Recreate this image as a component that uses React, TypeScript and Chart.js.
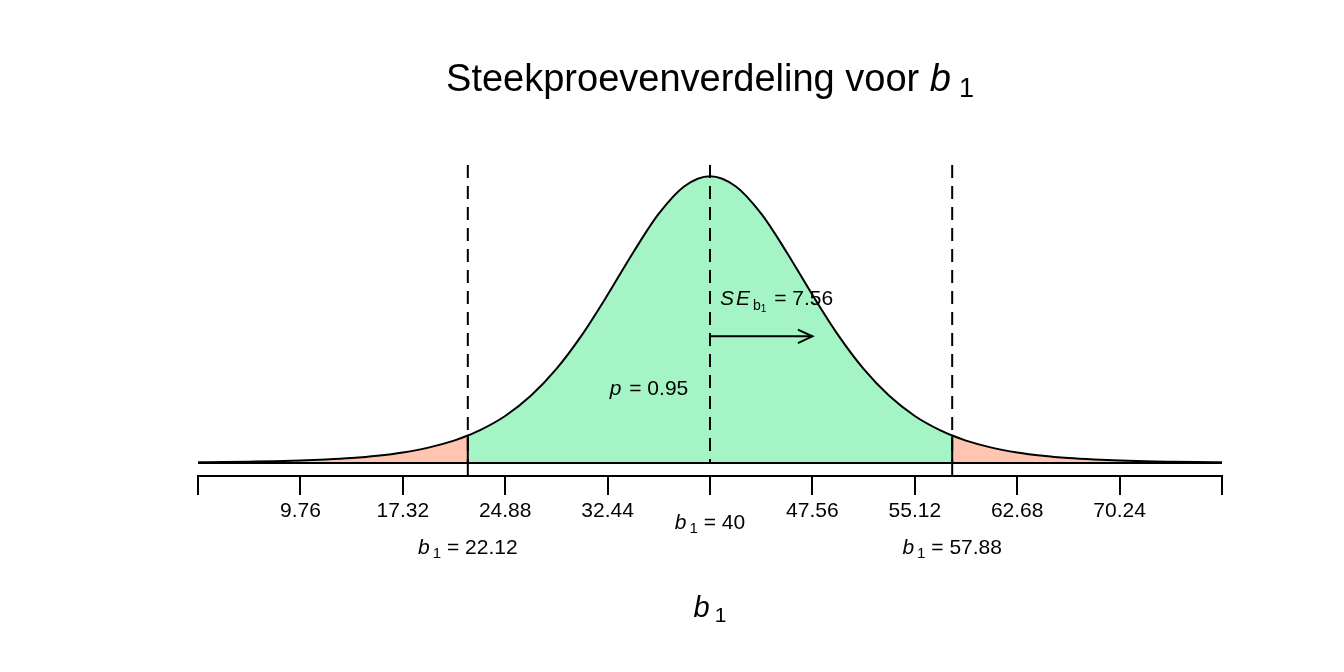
import { useEffect, useRef } from "react";
import { Chart, registerables } from "chart.js";

Chart.register(...registerables);

// Sampling distribution of b1 (t-shaped, heavy tails)
const center = 40;
const se = 7.56;
const lowerCrit = 22.12;
const upperCrit = 57.88;
const coverage = 0.95;

const tickValues = [2.2, 9.76, 17.32, 24.88, 32.44, 40, 47.56, 55.12, 62.68, 70.24, 77.8];
const tickLabels = ["", "9.76", "17.32", "24.88", "32.44", "", "47.56", "55.12", "62.68", "70.24", ""];

const curveB1 = [
  2.2, 4.09, 5.98, 7.87, 9.76, 11.65, 13.54, 15.43, 17.32, 19.21, 21.1, 22.12, 22.99,
  24.88, 26.77, 28.66, 30.55, 32.44, 34.33, 36.22, 38.11, 40, 41.89, 43.78, 45.67,
  47.56, 49.45, 51.34, 53.23, 55.12, 57.01, 57.88, 58.9, 60.79, 62.68, 64.57, 66.46,
  68.35, 70.24, 72.13, 74.02, 75.91, 77.8,
];
const curveDensity = [
  0.0009, 0.0012, 0.0017, 0.0023, 0.0033, 0.0047, 0.0067, 0.0097, 0.0141, 0.0206, 0.03, 0.0368, 0.0437,
  0.0631, 0.0902, 0.1263, 0.172, 0.2257, 0.2826, 0.3346, 0.3715, 0.385, 0.3715, 0.3346, 0.2826,
  0.2257, 0.172, 0.1263, 0.0902, 0.0631, 0.0437, 0.0368, 0.03, 0.0206, 0.0141, 0.0097, 0.0067,
  0.0047, 0.0033, 0.0023, 0.0017, 0.0012, 0.0009,
];

const critDensity = 0.0368;
const arrowLevel = 0.17;
const seLabelLevel = 0.222;
const pLabelLevel = 0.1;

const Y_MIN = -0.0175;
const Y_MAX = 0.4;

const FAMILY = "'Liberation Sans', Arial, Helvetica, sans-serif";
const GREEN = "#a4f4c6";
const SALMON = "#ffc5b0";

type Part = { text: string; size: number; italic?: boolean; dy?: number; gap?: number };

function drawRich(ctx: CanvasRenderingContext2D, parts: Part[], x: number, y: number, align: "center" | "left") {
  const fontOf = (p: Part) => `${p.italic ? "italic " : ""}${p.size}px ${FAMILY}`;
  let total = 0;
  const widths: number[] = [];
  for (const p of parts) {
    ctx.font = fontOf(p);
    const w = ctx.measureText(p.text).width;
    widths.push(w);
    total += (p.gap || 0) + w;
  }
  let cx = align === "center" ? x - total / 2 : x;
  ctx.textAlign = "left";
  ctx.textBaseline = "alphabetic";
  ctx.fillStyle = "#000";
  parts.forEach((p, i) => {
    cx += p.gap || 0;
    ctx.font = fontOf(p);
    ctx.fillText(p.text, cx, y + (p.dy || 0));
    cx += widths[i];
  });
}

const b1Label = (value: number, size: number): Part[] => [
  { text: "b", size, italic: true },
  { text: "1", size: Math.round(size * 0.72), dy: 4, gap: 3 },
  { text: ` = ${value}`, size },
];

const annotations = {
  id: "annotations",
  afterDraw(chart: any) {
    const { ctx, chartArea, scales } = chart;
    const x = scales.x;
    const y = scales.y;
    const midX = (chartArea.left + chartArea.right) / 2;
    ctx.save();

    // title
    drawRich(
      ctx,
      [
        { text: "Steekproevenverdeling voor ", size: 38 },
        { text: "b", size: 38, italic: true },
        { text: "1", size: 27, dy: 6, gap: 8 },
      ],
      midX,
      91,
      "center"
    );

    // axis title
    drawRich(
      ctx,
      [
        { text: "b", size: 29, italic: true },
        { text: "1", size: 21, dy: 5, gap: 5 },
      ],
      x.getPixelForValue(center),
      617,
      "center"
    );

    // labels under the axis
    drawRich(ctx, b1Label(center, 21), x.getPixelForValue(center), 529, "center");
    drawRich(ctx, b1Label(lowerCrit, 21), x.getPixelForValue(lowerCrit), 554, "center");
    drawRich(ctx, b1Label(upperCrit, 21), x.getPixelForValue(upperCrit), 554, "center");

    // standard error label
    drawRich(
      ctx,
      [
        { text: "S", size: 21, italic: true },
        { text: "E", size: 21, italic: true, gap: 2 },
        { text: "b", size: 14, dy: 5, gap: 3 },
        { text: "1", size: 10, dy: 7 },
        { text: ` = ${se}`, size: 21, gap: 2 },
      ],
      x.getPixelForValue(center) + 10,
      y.getPixelForValue(seLabelLevel) + 7,
      "left"
    );

    // probability label
    drawRich(
      ctx,
      [
        { text: "p", size: 21, italic: true },
        { text: ` = ${coverage}`, size: 21, gap: 2 },
      ],
      x.getPixelForValue(center) - 61,
      y.getPixelForValue(pLabelLevel) + 7,
      "center"
    );

    // arrow head
    const tipX = x.getPixelForValue(center + se);
    const tipY = y.getPixelForValue(arrowLevel);
    const len = 16;
    const ang = (25 * Math.PI) / 180;
    ctx.strokeStyle = "#000";
    ctx.lineWidth = 2;
    ctx.beginPath();
    ctx.moveTo(tipX - len * Math.cos(ang), tipY - len * Math.sin(ang));
    ctx.lineTo(tipX, tipY);
    ctx.lineTo(tipX - len * Math.cos(ang), tipY + len * Math.sin(ang));
    ctx.stroke();

    ctx.restore();
  },
};

export default function App() {
  const canvasRef = useRef<HTMLCanvasElement | null>(null);

  useEffect(() => {
    const canvas = canvasRef.current;
    if (!canvas) return;

    const points = curveB1.map((b, i) => ({ x: b, y: curveDensity[i] }));
    const leftTail = points.filter((p) => p.x <= lowerCrit);
    const middle = points.filter((p) => p.x >= lowerCrit && p.x <= upperCrit);
    const rightTail = points.filter((p) => p.x >= upperCrit);

    const fillSet = (data: any[], color: string) => ({
      data,
      showLine: true,
      fill: "origin",
      backgroundColor: color,
      borderWidth: 0,
      borderColor: "rgba(0,0,0,0)",
      pointRadius: 0,
      cubicInterpolationMode: "monotone",
      order: 10,
    });
    const lineSet = (data: any[], dash: number[] = [], width = 2) => ({
      data,
      showLine: true,
      fill: false,
      borderColor: "#000",
      borderWidth: width,
      borderDash: dash,
      pointRadius: 0,
      order: 1,
    });

    const chart = new Chart(canvas, {
      type: "scatter",
      data: {
        datasets: [
          fillSet(leftTail, SALMON),
          fillSet(middle, GREEN),
          fillSet(rightTail, SALMON),
          {
            ...lineSet(points),
            cubicInterpolationMode: "monotone",
          },
          lineSet([
            { x: tickValues[0], y: 0 },
            { x: tickValues[tickValues.length - 1], y: 0 },
          ]),
          ...[lowerCrit, center, upperCrit].map((v) =>
            lineSet(
              [
                { x: v, y: Y_MAX },
                { x: v, y: 0 },
              ],
              [13, 8]
            )
          ),
          ...[lowerCrit, upperCrit].map((v) =>
            lineSet([
              { x: v, y: critDensity },
              { x: v, y: Y_MIN },
            ])
          ),
          lineSet([
            { x: center, y: arrowLevel },
            { x: center + se, y: arrowLevel },
          ]),
        ] as any,
      },
      options: {
        animation: false,
        responsive: false,
        devicePixelRatio: 1,
        events: [],
        layout: { padding: { left: 198, right: 122, top: 165, bottom: 136 } },
        plugins: {
          legend: { display: false },
          tooltip: { enabled: false },
          title: { display: false },
        },
        scales: {
          x: {
            type: "linear",
            min: tickValues[0],
            max: tickValues[tickValues.length - 1],
            afterBuildTicks: (s: any) => {
              s.ticks = tickValues.map((v) => ({ value: v }));
            },
            afterFit: (s: any) => {
              s.height = 60;
            },
            ticks: {
              autoSkip: false,
              maxRotation: 0,
              padding: 4,
              color: "#000",
              font: { family: FAMILY, size: 21 },
              callback: (_v: any, i: number) => tickLabels[i],
            },
            grid: {
              drawOnChartArea: false,
              drawTicks: true,
              tickLength: 19,
              color: "#000",
              lineWidth: 2,
            },
            border: { display: true, color: "#000", width: 2 },
          },
          y: {
            type: "linear",
            display: false,
            min: Y_MIN,
            max: Y_MAX,
          },
        },
      } as any,
      plugins: [annotations],
    });

    return () => chart.destroy();
  }, []);

  return (
    <div style={{ position: "absolute", left: 0, top: 0, width: 1344, height: 672, background: "#fff" }}>
      <canvas ref={canvasRef} width={1344} height={672} />
    </div>
  );
}
